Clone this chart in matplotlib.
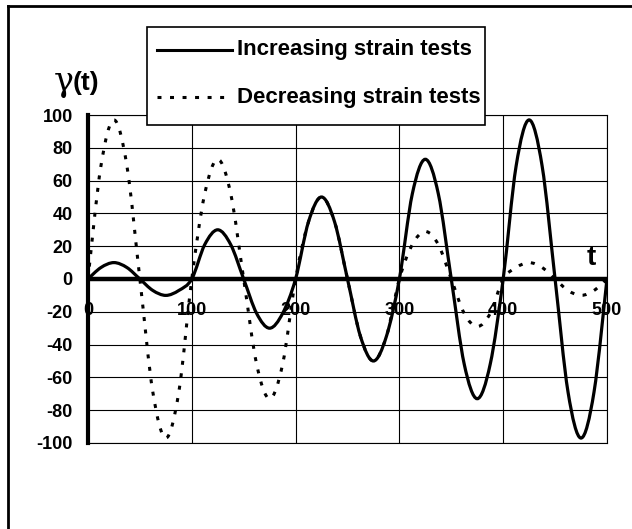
import matplotlib.pyplot as plt
import numpy as np
from matplotlib.lines import Line2D
from matplotlib.path import Path
from matplotlib.patches import PathPatch, Rectangle

plt.rcParams["font.family"] = ["Liberation Sans", "DejaVu Sans"]

# sample times (t) and strain readings gamma(t)
T = [0, 12.5, 25, 37.5, 50, 62.5, 75, 87.5,
     100, 112.5, 125, 137.5, 150, 162.5, 175, 187.5,
     200, 212.5, 225, 237.5, 250, 262.5, 275, 287.5,
     300, 312.5, 325, 337.5, 350, 362.5, 375, 387.5,
     400, 412.5, 425, 437.5, 450, 462.5, 475, 487.5,
     500]
INCREASING = [0, 7, 10, 7, 0, -7, -10, -7,
              0, 21, 30, 21, 0, -21, -30, -21,
              0, 35, 50, 35, 0, -35, -50, -35,
              0, 52, 73, 52, 0, -52, -73, -52,
              0, 69, 97, 69, 0, -69, -97, -69,
              0]
DECREASING = [0, 69, 97, 69, 0, -69, -97, -69,
              0, 52, 73, 52, 0, -52, -73, -52,
              0, 35, 50, 35, 0, -35, -50, -35,
              0, 21, 29, 21, 0, -21, -29, -21,
              0, 7, 10, 7, 0, -7, -10, -7,
              0]

XTICKS = [0, 100, 200, 300, 400, 500]
YTICKS = [-100, -80, -60, -40, -20, 0, 20, 40, 60, 80, 100]
LABELS = ["Increasing strain tests", "Decreasing strain tests"]
DOTS = (0, (1.3, 2.8))

W, H = 632, 529


def smooth_path(x, y):
    # Excel-like smoothed line: Catmull-Rom segments as cubic Beziers
    pts = np.column_stack([x, y]).astype(float)
    n = len(pts)
    verts = [pts[0]]
    codes = [Path.MOVETO]
    for i in range(n - 1):
        p0 = pts[max(i - 1, 0)]
        p1 = pts[i]
        p2 = pts[i + 1]
        p3 = pts[min(i + 2, n - 1)]
        verts += [p1 + (p2 - p0) / 6, p2 - (p3 - p1) / 6, p2]
        codes += [Path.CURVE4] * 3
    return Path(verts, codes)


def fx(px):
    return px / W


def fy(px):
    return 1 - px / H


fig = plt.figure(figsize=(6.32, 5.29), dpi=100)
ax = fig.add_axes([0.1392, 0.1626, 0.8212, 0.6200])

ax.add_patch(PathPatch(smooth_path(T, DECREASING), fill=False, edgecolor="black",
                       lw=2.2, linestyle=DOTS, zorder=3))
ax.add_patch(PathPatch(smooth_path(T, INCREASING), fill=False, edgecolor="black",
                       lw=2.3, zorder=4))
ax.axhline(0, color="black", lw=3.2, zorder=5)

ax.set_xlim(0, 500)
ax.set_ylim(-100, 100)
ax.set_xticks(XTICKS)
ax.set_yticks(YTICKS)
ax.set_yticklabels([str(v) for v in YTICKS], fontsize=13, fontweight="bold")
ax.tick_params(axis="x", length=0, labelbottom=False)
ax.tick_params(axis="y", length=0, pad=11)
ax.grid(True, color="black", lw=0.8, zorder=1)
ax.set_axisbelow(True)

for side in ["top", "right", "bottom"]:
    ax.spines[side].set_linewidth(0.8)
ax.spines["left"].set_linewidth(3.0)
ax.spines["left"].set_zorder(6)

for xv in XTICKS:
    ax.text(xv, -19, str(xv), ha="center", va="center", fontsize=13,
            fontweight="bold", zorder=7)
ax.text(485, 13, "t", ha="center", va="center", fontsize=20, fontweight="bold")

# legend box drawn by hand so its padding matches the scan
fig.add_artist(Rectangle((fx(147), fy(125)), fx(485) - fx(147), fy(27) - fy(125),
                         transform=fig.transFigure, facecolor="white",
                         edgecolor="black", lw=1.2, zorder=10))
styles = [dict(linestyle="-"), dict(linestyle=DOTS)]
for row, (label, style) in enumerate(zip(LABELS, styles)):
    ypx = 50 + row * 47
    fig.add_artist(Line2D([fx(157), fx(232)], [fy(ypx), fy(ypx)],
                          transform=fig.transFigure, color="black", lw=2.2,
                          zorder=11, **style))
    fig.text(fx(237), fy(ypx), label, fontsize=16, fontweight="bold",
             va="center", ha="left", zorder=11)

fig.text(fx(54), fy(91), "γ", family="DejaVu Serif", fontsize=24, va="baseline")
fig.text(fx(73), fy(90), "(t)", fontsize=19, fontweight="bold", va="baseline")

# scanned page frame: only top and left edges are visible
fig.add_artist(Line2D([fx(8), 1], [fy(6), fy(6)],
                      transform=fig.transFigure, color="black", lw=2))
fig.add_artist(Line2D([fx(8), fx(8)], [0, fy(6)],
                      transform=fig.transFigure, color="black", lw=2))

fig.savefig("out.png", dpi=100)
